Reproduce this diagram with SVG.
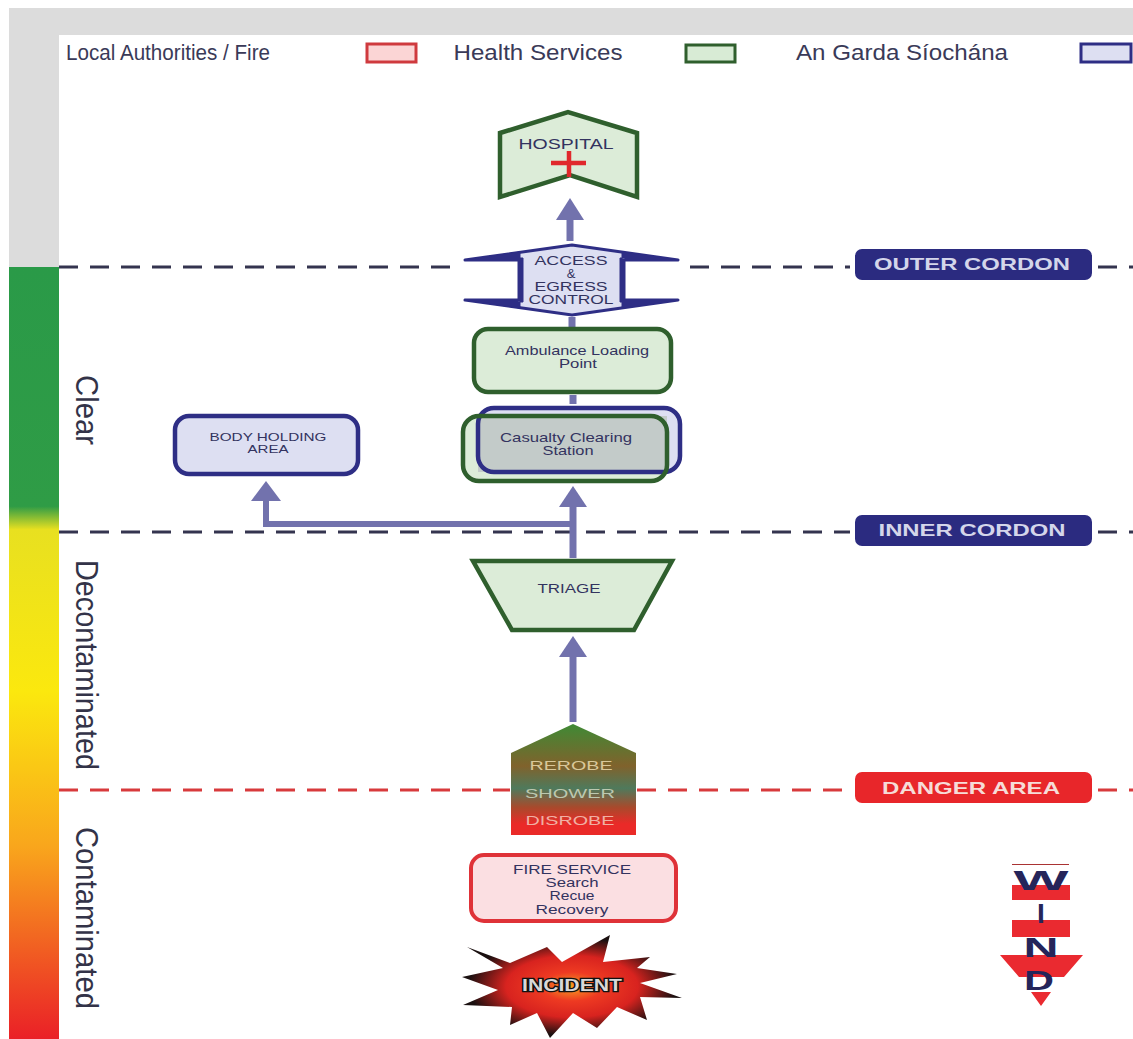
<svg xmlns="http://www.w3.org/2000/svg" width="1133" height="1039" viewBox="0 0 1133 1039">
<style>
text{font-family:"Liberation Sans",Arial,sans-serif;text-anchor:middle;fill:#33335f}
.leg{font-size:21.5px;fill:#3a3a58}
.side{font-size:31px;fill:#333348}
.cord{font-size:16.5px;font-weight:bold;fill:#d4d6ea}
.n{font-size:13px}
.s{font-size:11px}
.deco{font-size:13.5px}
.gr{stroke:#2f5f2d;stroke-width:4.5;fill:#dcecd8}
.bl{stroke:#2e2e85;stroke-width:4.5;fill:#dddff2}
.re{stroke:#df3238;stroke-width:4;fill:#fbdfe2}
.dash{fill:none;stroke-width:3;stroke-dasharray:19 12}
.arr{fill:none;stroke:#7272ad;stroke-width:7}
.head{fill:#7272ad}
.wt{font-size:28px;font-weight:bold;fill:#25255a}
</style>
<defs>
<linearGradient id="bar" x1="0" y1="267" x2="0" y2="1039" gradientUnits="userSpaceOnUse">
<stop offset="0" stop-color="#2a9a48"/><stop offset=".31" stop-color="#2f9c46"/><stop offset=".34" stop-color="#e8e020"/><stop offset=".55" stop-color="#fbe80e"/><stop offset=".75" stop-color="#f9a61c"/><stop offset="1" stop-color="#ea2027"/>
</linearGradient>
<linearGradient id="dec" x1="0" y1="0" x2="0" y2="1">
<stop offset="0" stop-color="#3f8a35"/><stop offset=".38" stop-color="#80622c"/><stop offset=".58" stop-color="#4f7a5c"/><stop offset=".75" stop-color="#a84a2c"/><stop offset=".9" stop-color="#ea2a28"/><stop offset="1" stop-color="#ea2a28"/>
</linearGradient>
<radialGradient id="burst" cx=".5" cy=".5" r=".5">
<stop offset="0" stop-color="#f5a020"/><stop offset=".28" stop-color="#ee3a22"/><stop offset=".6" stop-color="#d8231f"/><stop offset=".95" stop-color="#1a1010"/>
</radialGradient>
</defs>
<rect width="1133" height="1039" fill="#fff"/>
<path d="M9 8H1133V35H59V267H9Z" fill="#dcdcdc"/>
<rect x="9" y="267" width="50" height="772" fill="url(#bar)"/>
<g id="legend">
<text class="leg" x="168" y="60" textLength="204" lengthAdjust="spacingAndGlyphs">Local Authorities / Fire</text>
<rect x="367" y="44" width="49" height="18" fill="#fbd5d5" stroke="#cf3a3e" stroke-width="3"/>
<text class="leg" x="538" y="60" textLength="169" lengthAdjust="spacingAndGlyphs">Health Services</text>
<rect x="686" y="45" width="49" height="17" fill="#d8ebd5" stroke="#2f5f2d" stroke-width="3"/>
<text class="leg" x="902" y="60" textLength="212" lengthAdjust="spacingAndGlyphs">An Garda Síochána</text>
<rect x="1081" y="44" width="50" height="18" fill="#dddff2" stroke="#2e2e85" stroke-width="3"/>
</g>
<g id="zones">
<text class="side" transform="translate(76 410) rotate(90)" textLength="70" lengthAdjust="spacingAndGlyphs">Clear</text>
<text class="side" transform="translate(76 665) rotate(90)" textLength="210" lengthAdjust="spacingAndGlyphs">Decontaminated</text>
<text class="side" transform="translate(76 918) rotate(90)" textLength="182" lengthAdjust="spacingAndGlyphs">Contaminated</text>
</g>
<g id="connectors">
<path class="dash" stroke="#34344f" d="M59 267H460M690 267H850M1098 267H1133"/>
<path class="dash" stroke="#34344f" d="M59 532H850M1098 532H1133"/>
<path class="dash" stroke="#d83a3c" d="M59 790H510M637 790H850M1098 790H1133"/>
<path class="arr" d="M573 722V655"/><path class="head" d="M573 636L587 657H559Z"/>
<path class="arr" d="M573 558V505"/><path class="head" d="M573 486L587 507H559Z"/>
<path class="arr" style="stroke-width:6" d="M573 524H266V500"/><path class="head" d="M266 481L281 501H251Z"/>
<path class="arr" d="M570 241V215"/><path class="head" d="M570 198L584 220H556Z"/>
<path class="arr" d="M572 317V327M573 395V404"/>
</g>
<g id="hospital">
<path class="gr" d="M500 133L568 112L637 133V197L570 175L500 197Z"/>
<text class="n" x="566" y="149" style="font-size:14px" textLength="95" lengthAdjust="spacingAndGlyphs">HOSPITAL</text>
<path d="M551 163H586M569 151V177" stroke="#e0282c" stroke-width="4.5" fill="none"/>
</g>
<g id="access">
<path d="M465 260L572 245L678 260H622V300H678L572 315L465 300H520V260Z" fill="#dddff2" stroke="#2e2e85" stroke-width="3" stroke-linejoin="round"/>
<path d="M465 260L520 252V260ZM678 260L622 252V260ZM465 300L520 308V300ZM678 300L622 308V300ZM518 258H523V302H518ZM620 258H625V302H620Z" fill="#2e2e85" stroke="#2e2e85" stroke-linejoin="round"/>
<text class="n" x="571" y="265" textLength="73" lengthAdjust="spacingAndGlyphs">ACCESS</text>
<text class="n" x="571" y="278">&amp;</text>
<text class="n" x="571" y="291" textLength="73" lengthAdjust="spacingAndGlyphs">EGRESS</text>
<text class="n" x="571" y="304" textLength="85" lengthAdjust="spacingAndGlyphs">CONTROL</text>
</g>
<g id="ambulance">
<rect class="gr" x="474" y="329" width="197" height="63" rx="14"/>
<text class="n" x="577" y="355" textLength="144" lengthAdjust="spacingAndGlyphs">Ambulance Loading</text>
<text class="n" x="578" y="368" textLength="38" lengthAdjust="spacingAndGlyphs">Point</text>
</g>
<g id="casualty">
<rect x="463" y="416" width="204" height="65" rx="16" fill="#dcecd8"/>
<rect x="478" y="408" width="202" height="64" rx="16" fill="#dddff2"/>
<rect x="478" y="416" width="189" height="56" fill="#c3cbc9"/>
<rect x="478" y="408" width="202" height="64" rx="16" fill="none" stroke="#2e2e85" stroke-width="4.5"/>
<rect x="463" y="416" width="204" height="65" rx="16" fill="none" stroke="#2f5f2d" stroke-width="4.5"/>
<text class="n" x="566" y="442" textLength="132" lengthAdjust="spacingAndGlyphs">Casualty Clearing</text>
<text class="n" x="568" y="455" textLength="51" lengthAdjust="spacingAndGlyphs">Station</text>
</g>
<g id="body-holding">
<rect class="bl" x="175" y="416" width="183" height="58" rx="14"/>
<text class="s" x="268" y="441" textLength="117" lengthAdjust="spacingAndGlyphs">BODY HOLDING</text>
<text class="s" x="268" y="453" textLength="41" lengthAdjust="spacingAndGlyphs">AREA</text>
</g>
<g id="triage">
<path class="gr" d="M473 561H672L634 630H512Z"/>
<text class="n" x="569" y="593" textLength="63" lengthAdjust="spacingAndGlyphs">TRIAGE</text>
</g>
<g id="decon">
<path d="M511 753L573 724L636 753V835H511Z" fill="url(#dec)"/>
<text class="deco" x="571" y="770" style="fill:#d9c89a" textLength="83" lengthAdjust="spacingAndGlyphs">REROBE</text>
<text class="deco" x="570" y="798" style="fill:#bcc8b0" textLength="90" lengthAdjust="spacingAndGlyphs">SHOWER</text>
<text class="deco" x="570" y="825" style="fill:#f0b0a4" textLength="89" lengthAdjust="spacingAndGlyphs">DISROBE</text>
</g>
<g id="fire-service">
<rect class="re" x="471" y="855" width="205" height="66" rx="13"/>
<text class="n" x="572" y="874" textLength="118" lengthAdjust="spacingAndGlyphs">FIRE SERVICE</text>
<text class="n" x="572" y="887" textLength="53" lengthAdjust="spacingAndGlyphs">Search</text>
<text class="n" x="572" y="900" textLength="45" lengthAdjust="spacingAndGlyphs">Recue</text>
<text class="n" x="572" y="914" textLength="73" lengthAdjust="spacingAndGlyphs">Recovery</text>
</g>
<g id="incident">
<path fill="url(#burst)" d="M467 947L510 963L547 947L562 962L610 935L603 962L650 957L637 968L677 974L640 983L682 998L640 997L647 1020L617 1007L597 1028L573 1013L550 1038L537 1013L510 1025L512 1007L463 1005L498 990L462 977L503 968Z"/>
<text x="572" y="991" style="font-size:16px;font-weight:bold;fill:#d8d8d8;stroke:#111;stroke-width:2.5;paint-order:stroke" textLength="100" lengthAdjust="spacingAndGlyphs">INCIDENT</text>
</g>
<g id="outer-cordon">
<rect x="855" y="249" width="237" height="31" rx="7" fill="#2b2b80"/>
<text class="cord" x="972" y="270" textLength="196" lengthAdjust="spacingAndGlyphs">OUTER CORDON</text>
</g>
<g id="inner-cordon">
<rect x="855" y="515" width="237" height="31" rx="7" fill="#2b2b80"/>
<text class="cord" x="972" y="536" textLength="187" lengthAdjust="spacingAndGlyphs">INNER CORDON</text>
</g>
<g id="danger-area">
<rect x="855" y="772" width="237" height="31" rx="7" fill="#e8262a"/>
<text class="cord" x="971" y="794" style="fill:#f6dcd8" textLength="178" lengthAdjust="spacingAndGlyphs">DANGER AREA</text>
</g>
<g id="wind">
<path d="M1012 864H1069V865H1012Z" fill="#a33"/>
<path d="M1012 885H1070V900H1012ZM1012 920H1070V937H1012ZM1000 955H1083L1064 977H1019ZM1031 992H1051L1041 1006Z" fill="#ea2a30"/>
<text class="wt" x="1041" y="890" textLength="55" lengthAdjust="spacingAndGlyphs">W</text>
<text class="wt" x="1041" y="923">I</text>
<text class="wt" x="1041" y="957" textLength="35" lengthAdjust="spacingAndGlyphs">N</text>
<text class="wt" x="1039" y="990" textLength="30" lengthAdjust="spacingAndGlyphs">D</text>
</g>
</svg>
